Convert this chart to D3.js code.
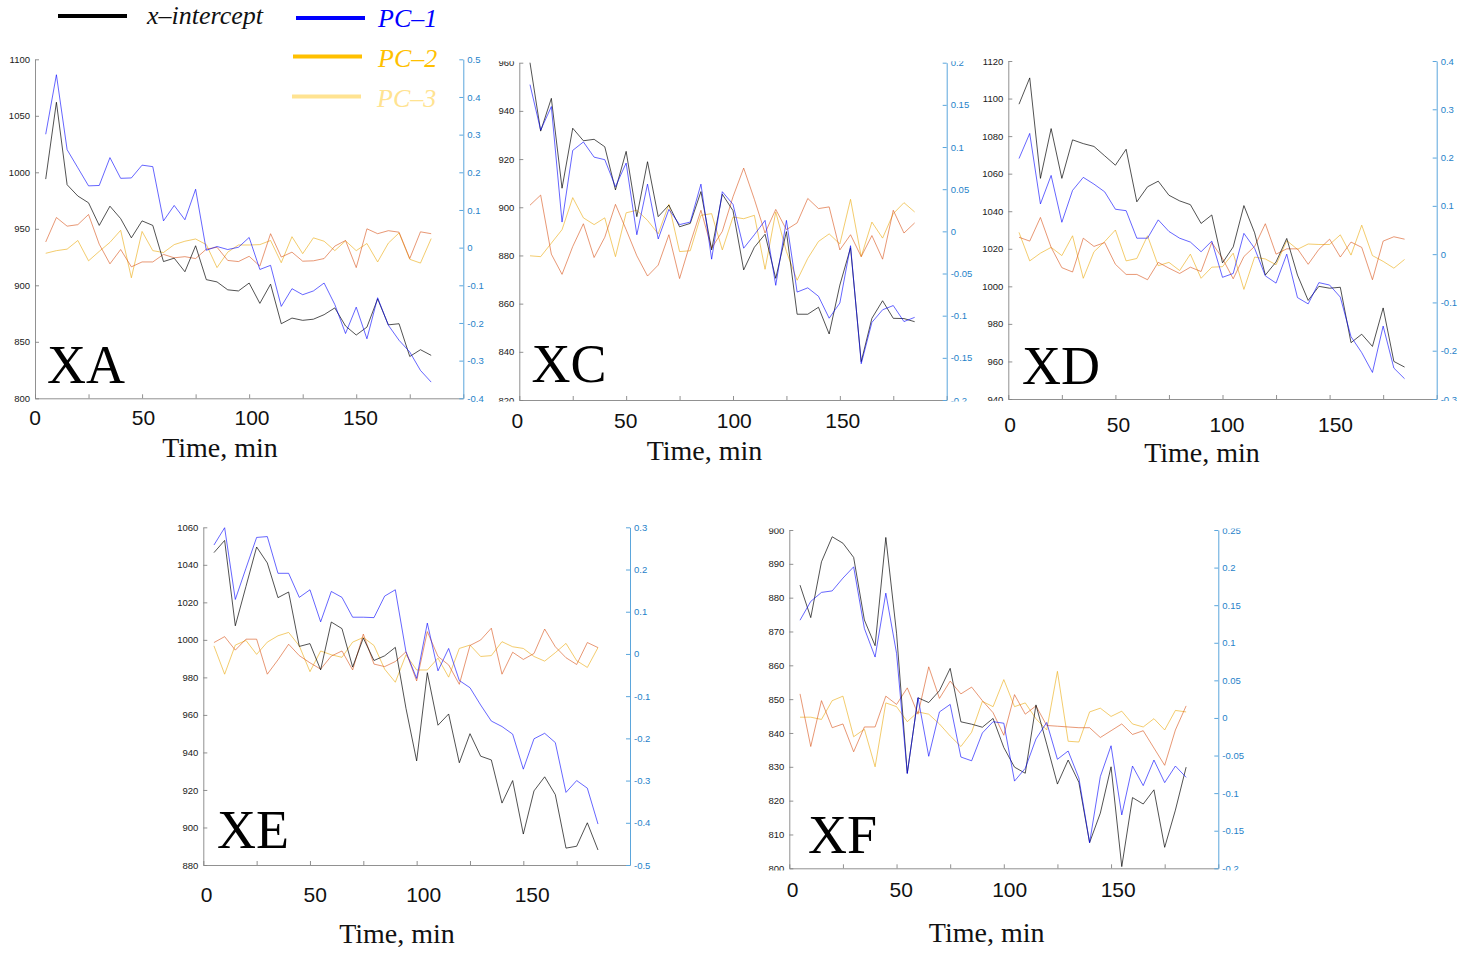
<!DOCTYPE html>
<html>
<head>
<meta charset="utf-8">
<script src="https://cdn.jsdelivr.net/npm/d3@7"></script>
<style>
  html, body { margin: 0; background: #fff; }
  svg { display: block; }
</style>
</head>
<body>
<svg id="fig" width="1475" height="954"></svg>
<script>
// Sampling times (min), shared by every run
const timeMin = [5,10,15,20,25,30,35,40,45,50,55,60,65,70,75,80,85,90,95,100,
                 105,110,115,120,125,130,135,140,145,150,155,160,165,170,175,180,185];
const xTickValues = [0,25,50,75,100,125,150,175,200];
const xTickLabels = [0,50,100,150];

// XA
const xaIntercept = [994,1062,989,979,973,953,970,959,942,957,953,921,924,912,935,905,903,896,895,902,884,901,866,871,869,870,874,880,864,856,863,888,865,866,837,843,838];
const xaPC1 = [0.301,0.459,0.260,0.212,0.164,0.165,0.239,0.184,0.185,0.219,0.215,0.071,0.112,0.074,0.155,-0.007,0.003,-0.005,0.001,0.027,-0.058,-0.047,-0.156,-0.109,-0.125,-0.115,-0.094,-0.151,-0.228,-0.158,-0.242,-0.133,-0.206,-0.246,-0.277,-0.326,-0.357];
const xaPC2 = [0.015,0.080,0.057,0.061,0.088,0.009,-0.043,-0.005,-0.051,-0.038,-0.038,-0.018,-0.027,-0.024,-0.029,-0.004,0.001,-0.034,-0.037,-0.023,-0.049,0.037,-0.025,-0.012,-0.036,-0.035,-0.029,0.004,0.019,-0.053,0.050,0.037,0.045,0.041,-0.029,0.042,0.037];
const xaPC3 = [-0.015,-0.008,-0.004,0.019,-0.035,-0.010,0.014,0.046,-0.080,0.043,-0.008,-0.013,0.008,0.017,0.023,0.008,-0.053,-0.012,0.007,0.007,0.008,0.019,-0.040,0.029,-0.016,0.026,0.017,-0.008,0.018,-0.008,0.011,-0.038,0.012,0.039,-0.031,-0.041,0.024];
const xaLeftTicks = [800,850,900,950,1000,1050,1100];
const xaRightTicks = [-0.4,-0.3,-0.2,-0.1,0,0.1,0.2,0.3,0.4,0.5];

// XC
const xcIntercept = [960,931.6,945.2,907.9,932.8,927.6,928.2,925.1,907.2,923.2,896.1,918.9,896.1,900.9,891.9,893.3,906.5,882.3,905.4,898.6,874,883.4,888.8,870.5,889.9,855.6,855.6,858.5,847.4,867.7,883.2,835.9,853.9,861.2,853.9,853.8,852.5];
const xcPC1 = [0.174,0.120,0.148,0.011,0.096,0.106,0.088,0.085,0.053,0.081,-0.004,0.056,-0.009,0.026,0.008,0.011,0.056,-0.033,0.047,0.032,-0.020,-0.004,0.013,-0.064,0.013,-0.072,-0.067,-0.077,-0.103,-0.085,-0.017,-0.157,-0.108,-0.093,-0.088,-0.107,-0.102];
const xcPC2 = [0.031,0.043,-0.027,-0.051,-0.018,0.009,-0.031,-0.007,0.032,0.002,-0.029,-0.053,-0.040,-0.004,-0.056,-0.014,0.025,-0.020,0,0.041,0.075,0.038,-0.002,0.026,0.002,0.010,0.039,0.027,0.029,-0.022,-0.004,-0.030,-0.005,-0.033,0.025,-0.002,0.010];
const xcPC3 = [-0.029,-0.030,-0.014,0.002,0.040,0.016,0.008,0.016,-0.030,0.022,0.025,0.013,-0.003,0.032,-0.024,-0.023,0.019,0.021,-0.022,0.017,0.015,0.019,-0.045,0.023,-0.024,-0.058,-0.032,-0.012,-0.003,-0.015,0.038,-0.030,0.011,-0.008,0.021,0.034,0.023];
const xcLeftTicks = [820,840,860,880,900,920,940,960];
const xcRightTicks = [-0.2,-0.15,-0.1,-0.05,0,0.05,0.1,0.15,0.2];

// XD
const xdIntercept = [1097,1111,1057.5,1084,1057.5,1078,1076,1074.5,1069.5,1064.5,1073,1045,1053,1056,1048.5,1045.5,1043.5,1033.5,1038,1012.5,1021,1043,1028.5,1006,1013,1025.5,1006,992.5,1000,999,999.5,970,974.5,968,988.5,960,957];
const xdPC1 = [0.198,0.250,0.104,0.163,0.066,0.132,0.159,0.145,0.129,0.093,0.090,0.033,0.033,0.071,0.047,0.033,0.025,0.005,0.027,-0.048,-0.040,0.043,0.012,-0.045,-0.060,0,-0.090,-0.103,-0.059,-0.064,-0.089,-0.171,-0.204,-0.245,-0.149,-0.236,-0.258];
const xdPC2 = [0.035,0.027,0.076,0.014,-0.028,-0.037,0.033,0.016,0.024,-0.021,-0.042,-0.042,-0.053,-0.017,-0.029,-0.040,-0.027,-0.036,0.024,-0.009,-0.051,-0.005,0.016,0.063,0,0.011,0.011,-0.021,0.010,0.031,-0.006,0.025,0.014,-0.053,0.027,0.036,0.031];
const xdPC3 = [0.045,-0.014,0.002,0.014,-0.003,0.038,-0.050,0.005,0.026,0.050,-0.014,-0.009,0.038,-0.024,-0.017,-0.034,0,-0.050,-0.027,-0.026,0.002,-0.073,-0.006,-0.010,-0.022,0.028,0.010,0.021,0.020,0.020,0.040,-0.002,0.060,-0.003,-0.015,-0.029,-0.011];
const xdLeftTicks = [940,960,980,1000,1020,1040,1060,1080,1100,1120];
const xdRightTicks = [-0.3,-0.2,-0.1,0,0.1,0.2,0.3,0.4];

// XE
const xeIntercept = [1046.5,1053,1007.5,1028.5,1049.5,1041,1022.5,1025.5,996.5,998,984,1009.5,1006,985.5,1001,989,991.5,996,963.5,935.5,982.5,954.5,960.5,934.5,950,938,936,913,925,896.5,919.5,927,917.5,889,890,902.5,888];
const xePC1 = [0.258,0.299,0.129,0.203,0.276,0.278,0.191,0.191,0.134,0.152,0.076,0.148,0.134,0.087,0.087,0.086,0.137,0.152,0.005,-0.058,0.073,-0.040,0.013,-0.063,-0.080,-0.121,-0.159,-0.172,-0.190,-0.273,-0.201,-0.188,-0.210,-0.328,-0.300,-0.318,-0.403];
const xePC2 = [0.027,0.041,0.009,0.035,0.035,-0.048,-0.014,0.023,-0.004,-0.021,-0.036,-0.005,0.007,-0.038,0.047,-0.024,-0.030,-0.018,0.005,-0.064,0.053,-0.006,-0.026,-0.072,0.020,0.033,0.061,-0.048,0.004,-0.013,0.001,0.059,0.017,-0.009,-0.025,0.027,0.015];
const xePC3 = [0.019,-0.048,0.021,0.032,-0.001,0.028,0.043,0.051,0.019,-0.042,0.007,-0.002,-0.008,0.028,0.039,0.020,-0.036,-0.067,-0.002,-0.038,-0.038,-0.010,-0.055,0.013,0.021,-0.006,-0.004,0.029,0.017,0.013,-0.006,-0.017,0.003,0.025,-0.016,-0.032,0.015];
const xeLeftTicks = [880,900,920,940,960,980,1000,1020,1040,1060];
const xeRightTicks = [-0.5,-0.4,-0.3,-0.2,-0.1,0,0.1,0.2,0.3];

// XF
const xfIntercept = [883.7,874.1,890.6,898,896.1,891.9,873.4,865.8,897.8,869.5,828.1,850.4,849,852.5,859.1,843.3,842.6,841.7,844.3,835.7,829.9,828.1,848.3,836.7,824.9,832,825.4,807.6,816.3,830,800.5,820.9,819,823.2,806.2,817.2,829.9];
const xfPC1 = [0.130,0.155,0.167,0.169,0.186,0.201,0.119,0.081,0.166,0.086,-0.074,0.027,-0.051,0.008,0.018,-0.052,-0.057,-0.020,-0.005,-0.007,-0.084,-0.067,-0.028,-0.006,-0.055,-0.044,-0.080,-0.166,-0.078,-0.037,-0.129,-0.064,-0.090,-0.056,-0.086,-0.064,-0.079];
const xfPC2 = [0.032,-0.038,0.023,-0.013,-0.008,-0.045,-0.012,-0.012,0.029,0.018,0.040,0.005,0.068,0.026,0.049,0.032,0.041,0.023,0.007,-0.023,0.031,0.005,0.016,-0.010,-0.011,-0.012,-0.013,-0.013,-0.026,-0.017,-0.008,-0.022,-0.017,-0.040,-0.063,-0.016,0.016];
const xfPC3 = [0.001,0.001,-0.002,0.023,0.029,-0.025,-0.015,-0.065,0.020,0.015,-0.005,0.008,0.005,-0.008,-0.024,-0.038,-0.019,0.022,0.015,0.051,0.015,0.020,-0.001,-0.016,0.062,-0.031,-0.032,0.008,0.013,0.002,0.009,-0.008,-0.012,-0.001,-0.016,0.010,0.008];
const xfLeftTicks = [800,810,820,830,840,850,860,870,880,890,900];
const xfRightTicks = [-0.2,-0.15,-0.1,-0.05,0,0.05,0.1,0.15,0.2,0.25];

// Legend entries
const legendNames = ["x\u2013intercept", "PC\u20131", "PC\u20132", "PC\u20133"];

// Panel layout (pixel boxes) paired with each run's series
const panels = [
  { tag: "XA", icpt: xaIntercept, pc1: xaPC1, pc2: xaPC2, pc3: xaPC3, lt: xaLeftTicks, rt: xaRightTicks,
    box: { l: 35, r: 463.3, t: 59.3, b: 398.3, tickY: 425, titleX: 220, titleY: 456.7, tagX: 47, tagY: 383, shift: 0, clip: null } },
  { tag: "XC", icpt: xcIntercept, pc1: xcPC1, pc2: xcPC2, pc3: xcPC3, lt: xcLeftTicks, rt: xcRightTicks,
    box: { l: 519.3, r: 946.7, t: 62.7, b: 400, tickY: 428.3, titleX: 704.5, titleY: 460, tagX: 531.5, tagY: 381.7, shift: -2, clip: [61.3, 401.5] } },
  { tag: "XD", icpt: xdIntercept, pc1: xdPC1, pc2: xdPC2, pc3: xdPC3, lt: xdLeftTicks, rt: xdRightTicks,
    box: { l: 1008.3, r: 1436.7, t: 61, b: 399, tickY: 431.7, titleX: 1202, titleY: 461.7, tagX: 1022, tagY: 384.3, shift: 1.7, clip: [0, 401] } },
  { tag: "XE", icpt: xeIntercept, pc1: xePC1, pc2: xePC2, pc3: xePC3, lt: xeLeftTicks, rt: xeRightTicks,
    box: { l: 203.3, r: 630, t: 527.3, b: 865, tickY: 901.7, titleX: 397, titleY: 943.3, tagX: 217, tagY: 848.3, shift: 3.4, clip: null } },
  { tag: "XF", icpt: xfIntercept, pc1: xfPC1, pc2: xfPC2, pc3: xfPC3, lt: xfLeftTicks, rt: xfRightTicks,
    box: { l: 789.3, r: 1218.3, t: 530, b: 868.3, tickY: 897.3, titleX: 986.7, titleY: 941.7, tagX: 808, tagY: 853.3, shift: 3.4, clip: [528.5, 870.5] } }
];

const sans = "'Liberation Sans', Arial, Helvetica, sans-serif";
const serif = "'Liberation Serif', 'Times New Roman', serif";
const rightBlue = "#1f82c9";
const rightLine = "#5ba6dc";
const greyAxis = "#858585";

const svg = d3.select("#fig");
const defs = svg.append("defs");

const fmt = v => String(+(+v).toFixed(3));

panels.forEach((p, i) => {
  const b = p.box;
  const x = d3.scaleLinear().domain([0, 200]).range([b.l, b.r]);
  const yL = d3.scaleLinear().domain(d3.extent(p.lt)).range([b.b, b.t]);
  const yR = d3.scaleLinear().domain(d3.extent(p.rt)).range([b.b, b.t]);

  const g = svg.append("g").attr("class", "panel-" + p.tag);

  // vertical trim for the y axes (edge labels are cut); the rect lives in the
  // axis group's own coordinates, so it spans generously in x
  let clipRef = null;
  if (b.clip) {
    defs.append("clipPath").attr("id", "yclip" + i)
      .append("rect").attr("x", -3000).attr("y", b.clip[0])
      .attr("width", 6000).attr("height", b.clip[1] - b.clip[0]);
    clipRef = "url(#yclip" + i + ")";
  }

  // bottom axis: inward ticks every 25 min
  const xAxis = d3.axisBottom(x).tickValues(xTickValues).tickSizeInner(-4).tickSizeOuter(0).tickFormat("");
  const gx = g.append("g").attr("transform", `translate(0,${b.b})`).call(xAxis);
  gx.select(".domain").attr("stroke", greyAxis).attr("stroke-width", 0.9);
  gx.selectAll(".tick line").attr("stroke", greyAxis).attr("stroke-width", 0.9);

  // large x tick labels
  const xl = d3.scaleLinear().domain([0, 150]).range([b.l + b.shift, b.l + b.shift + 325.5]);
  g.selectAll(".xlab").data(xTickLabels).join("text")
    .attr("x", d => xl(d)).attr("y", b.tickY)
    .attr("text-anchor", "middle")
    .attr("font-family", sans).attr("font-size", 21).attr("fill", "#111")
    .text(d => d);

  g.append("text").attr("x", b.titleX).attr("y", b.titleY)
    .attr("text-anchor", "middle")
    .attr("font-family", serif).attr("font-size", 28).attr("fill", "#111")
    .text("Time, min");

  // left axis (x-intercept)
  const gl = g.append("g").attr("transform", `translate(${b.l},0)`).attr("clip-path", clipRef)
    .call(d3.axisLeft(yL).tickValues(p.lt).tickSizeInner(-4).tickSizeOuter(0).tickPadding(5).tickFormat(fmt));
  gl.select(".domain").attr("stroke", greyAxis).attr("stroke-width", 0.9);
  gl.selectAll(".tick line").attr("stroke", greyAxis).attr("stroke-width", 0.9);
  gl.selectAll(".tick text").attr("font-family", sans).attr("font-size", 9.5).attr("fill", "#1a1a1a");

  // right axis (PC scores)
  const gr = g.append("g").attr("transform", `translate(${b.r},0)`).attr("clip-path", clipRef)
    .call(d3.axisRight(yR).tickValues(p.rt).tickSizeInner(-4).tickSizeOuter(0).tickPadding(4).tickFormat(fmt));
  gr.select(".domain").attr("stroke", rightLine).attr("stroke-width", 1);
  gr.selectAll(".tick line").attr("stroke", rightLine).attr("stroke-width", 1);
  gr.selectAll(".tick text").attr("font-family", sans).attr("font-size", 9.5).attr("fill", rightBlue);

  const lineL = d3.line().x((d, k) => x(timeMin[k])).y(d => yL(d));
  const lineR = d3.line().x((d, k) => x(timeMin[k])).y(d => yR(d));

  const series = [
    { vals: p.pc3, fn: lineR, color: "#EDB120", op: 0.65 },
    { vals: p.pc2, fn: lineR, color: "#D95319", op: 0.6 },
    { vals: p.icpt, fn: lineL, color: "#000000", op: 0.68 },
    { vals: p.pc1, fn: lineR, color: "#0000FF", op: 0.6 }
  ];
  series.forEach(s => {
    g.append("path").datum(s.vals)
      .attr("d", s.fn)
      .attr("fill", "none")
      .attr("stroke", s.color)
      .attr("stroke-opacity", s.op)
      .attr("stroke-width", 1)
      .attr("stroke-linejoin", "round");
  });

  g.append("text").attr("x", b.tagX).attr("y", b.tagY)
    .attr("font-family", serif).attr("font-size", 54).attr("fill", "#000")
    .text(p.tag);
});

// legend
const legendItems = [
  { name: legendNames[0], color: "#000000", x1: 58, x2: 127, ly: 16, tx: 147, ty: 24 },
  { name: legendNames[1], color: "#0000FF", x1: 296, x2: 365, ly: 18, tx: 378, ty: 26.5 },
  { name: legendNames[2], color: "#FFC000", x1: 293, x2: 362, ly: 56.5, tx: 378, ty: 67 },
  { name: legendNames[3], color: "#FFE391", x1: 292, x2: 361, ly: 96.5, tx: 377, ty: 107 }
];
const lg = svg.append("g").attr("class", "legend");
lg.selectAll("line").data(legendItems).join("line")
  .attr("x1", d => d.x1).attr("x2", d => d.x2)
  .attr("y1", d => d.ly).attr("y2", d => d.ly)
  .attr("stroke", d => d.color).attr("stroke-width", 4);
lg.selectAll("text").data(legendItems).join("text")
  .attr("x", d => d.tx).attr("y", d => d.ty)
  .attr("font-family", serif).attr("font-style", "italic").attr("font-size", 26)
  .attr("fill", (d, k) => k === 0 ? "#111" : d.color)
  .text(d => d.name);
</script>
</body>
</html>
